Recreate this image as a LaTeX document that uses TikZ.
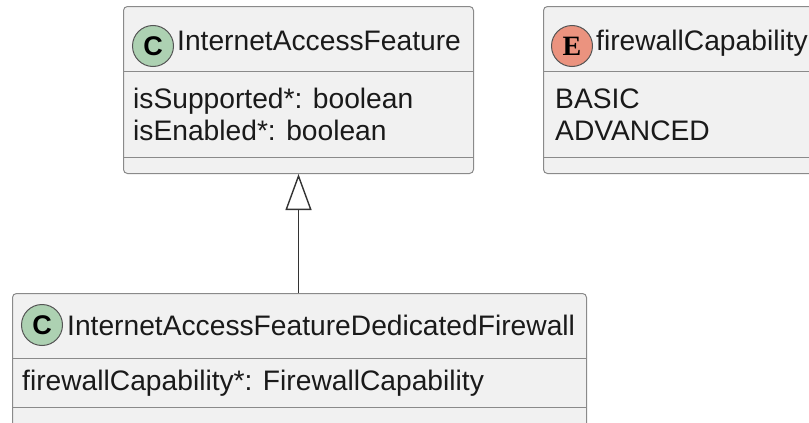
\documentclass[tikz,border=0pt]{standalone}
\usepackage{fontspec}
\setmainfont{Liberation Sans}
\newfontfamily\serifE{Liberation Serif}
\usetikzlibrary{arrows.meta}
\definecolor{boxfill}{HTML}{F1F1F1}
\definecolor{boxgray}{HTML}{8A8A8A}
\definecolor{circgray}{HTML}{555555}
\definecolor{classgreen}{HTML}{ADD1B2}
\definecolor{enumred}{HTML}{EB937F}
\definecolor{textcol}{HTML}{1A1A1A}
\definecolor{linecol}{HTML}{333333}
\begin{document}
\begin{tikzpicture}[x=1pt,y=-1pt]
\tikzset{
 umlbox/.style={draw=boxgray, fill=boxfill, line width=1pt, rounded corners=4pt, inner sep=0pt, anchor=north west},
 sepline/.style={draw=boxgray, line width=1pt},
 txt/.style={anchor=base west, inner sep=0pt, font=\fontsize{28.2}{33}\selectfont, text=textcol},
 badge/.style={circle, draw=circgray, line width=1pt, minimum size=41pt, inner sep=0pt, text=black},
 extends/.style={draw=linecol, line width=1.4pt, -{Triangle[open, length=36pt, width=26pt, fill=white]}},
}
\useasboundingbox (0,0) rectangle (809,423);
\clip (0,0) rectangle (809,423);
% Box 1
\node[umlbox, minimum width=350pt, minimum height=167pt] (iaf) at (123,6) {};
\draw[sepline] (iaf.west |- 0,71) -- (iaf.east |- 0,71);
\draw[sepline] (iaf.west |- 0,157) -- (iaf.east |- 0,157);
\node[badge, fill=classgreen, font=\fontsize{27}{27}\selectfont\bfseries] (iafc) at (153,46) {C};
\node[txt] (iaft) at (177,50) {InternetAccessFeature};
\node[txt] (iafa1) at (133,108) {isSupported*: boolean};
\node[txt] (iafa2) at (133,140) {isEnabled*: boolean};
% Box 2
\node[umlbox, minimum width=300pt, minimum height=167pt] (fwc) at (543,6) {};
\draw[sepline] (fwc.west |- 0,71) -- (fwc.east |- 0,71);
\draw[sepline] (fwc.west |- 0,157) -- (fwc.east |- 0,157);
\node[badge, fill=enumred, font=\fontsize{28}{28}\serifE\bfseries] (fwce) at (572,46) {E};
\node[txt] (fwct) at (596,50) {firewallCapability};
\node[txt] (fwcv1) at (555,108) {BASIC};
\node[txt] (fwcv2) at (555,140) {ADVANCED};
% Box 3
\node[umlbox, minimum width=574pt, minimum height=140pt] (iafdf) at (12,293) {};
\draw[sepline] (iafdf.west |- 0,358) -- (iafdf.east |- 0,358);
\draw[sepline] (iafdf.west |- 0,407) -- (iafdf.east |- 0,407);
\node[badge, fill=classgreen, font=\fontsize{27}{27}\selectfont\bfseries] (iafdfc) at (42,325) {C};
\node[txt] (iafdft) at (67,335) {InternetAccessFeatureDedicatedFirewall};
\node[txt] (iafdfa) at (22,390) {firewallCapability*: FirewallCapability};
% Generalisation
\draw[extends] (iaf.south |- iafdf.north) -- (iaf.south);
\end{tikzpicture}
\end{document}
